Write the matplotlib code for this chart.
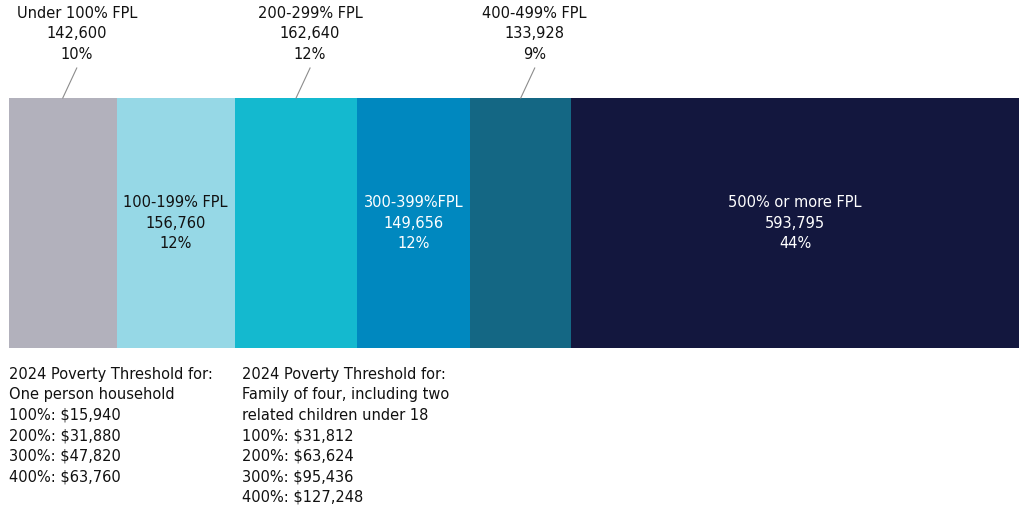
import matplotlib.pyplot as plt

# FPL groups, counts and shares
groups = ["Under 100% FPL", "100-199% FPL", "200-299% FPL",
          "300-399%FPL", "400-499% FPL", "500% or more FPL"]
counts = [142600, 156760, 162640, 149656, 133928, 593795]
shares = ["10%", "12%", "12%", "12%", "9%", "44%"]
colors = ["#b2b1bc", "#96d8e6", "#14b9cf", "#0088bf", "#146784", "#13173e"]
text_colors = ["#111111", "#111111", "#111111", "white", "#111111", "white"]
# labels that sit above the bar with a leader line
outside = [True, False, True, False, True, False]

one_person = ["2024 Poverty Threshold for:", "One person household",
              "100%: $15,940", "200%: $31,880", "300%: $47,820", "400%: $63,760"]
family_four = ["2024 Poverty Threshold for:", "Family of four, including two",
               "related children under 18",
               "100%: $31,812", "200%: $63,624", "300%: $95,436", "400%: $127,248"]

plt.rcParams["font.family"] = ["DejaVu Sans"]

W, H = 1023, 508
fig = plt.figure(figsize=(W / 100, H / 100), dpi=100)
ax = fig.add_axes([0, 0, 1, 1])

total = sum(counts)
x0, x1 = 9, 1019  # bar extent in pixels
scale = total / (x1 - x0)
ax.set_xlim(-x0 * scale, (W - x0) * scale)
ax.set_ylim(H, 0)
ax.axis("off")

bar_top, bar_bot = 98, 348
fs = 10.5
ls = 1.45
left = 0
for name, n, pct, c, tc, out in zip(groups, counts, shares, colors, text_colors, outside):
    ax.barh((bar_top + bar_bot) / 2, n, left=left, height=bar_bot - bar_top,
            color=c, edgecolor="none")
    mid = left + n / 2
    label = f"{name}\n{n:,}\n{pct}"
    if out:
        tx = mid + 14 * scale
        ax.plot([mid, tx], [bar_top, 68], color="#8c8c8c", lw=0.8)
        ax.text(tx, 34, label, ha="center", va="center", fontsize=fs,
                color="#111111", linespacing=ls)
    else:
        ax.text(mid, 223, label, ha="center", va="center", fontsize=fs,
                color=tc, linespacing=ls)
    left += n

ax.text(0, 367, "\n".join(one_person), ha="left", va="top",
        fontsize=fs, color="#111111", linespacing=ls)
ax.text((242 - x0) * scale, 367, "\n".join(family_four), ha="left", va="top",
        fontsize=fs, color="#111111", linespacing=ls)

fig.savefig("out.png", dpi=100)
